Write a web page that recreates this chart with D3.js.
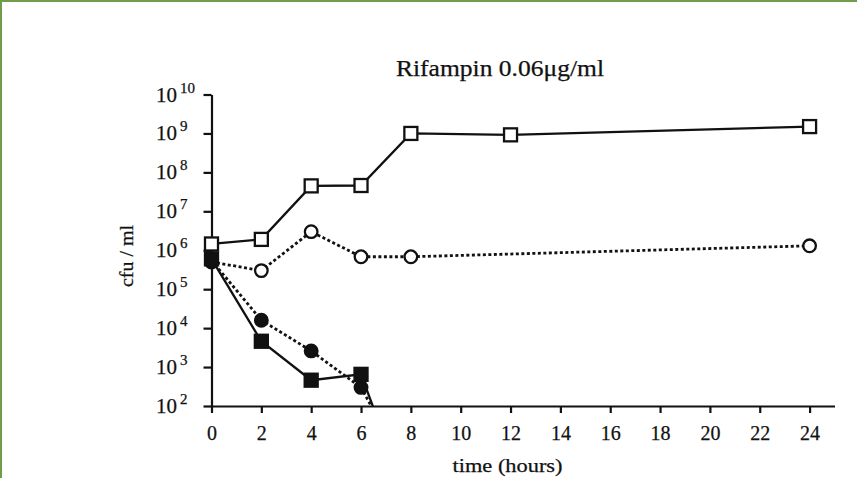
<!DOCTYPE html>
<html>
<head>
<meta charset="utf-8">
<script src="https://cdn.jsdelivr.net/npm/d3@7"></script>
<style>
  html, body { margin: 0; padding: 0; background: #fff; }
  #frame {
    width: 857px; height: 478px;
    border-left: 2px solid #6f9d4c; border-top: 2px solid #6f9d4c;
    box-sizing: border-box; position: relative;
  }
  svg text { font-family: "Liberation Serif", "Times New Roman", Times, serif; fill: #111; stroke: #111; stroke-width: 0.25px; }
</style>
</head>
<body>
<div id="frame"></div>
<script>
// time points (hours) and cfu/ml values
const tOpenSquare  = [0, 2, 4, 6, 8, 12, 24];
const vOpenSquare  = [1.45e6, 1.9e6, 4.5e7, 4.6e7, 1.0e9, 9.2e8, 1.5e9];

const tOpenCircle  = [0, 2, 4, 6, 8, 24];
const vOpenCircle  = [5.0e5, 3.0e5, 3.0e6, 6.8e5, 6.8e5, 1.3e6];

const tFilledCircle = [0, 2, 4, 6, 6.6];
const vFilledCircle = [5.5e5, 1.6e4, 2.6e3, 3.0e2, 60];

const tFilledSquare = [0, 2, 4, 6, 6.6];
const vFilledSquare = [6.0e5, 4.6e3, 4.6e2, 6.5e2, 60];

const xTicks = [0, 2, 4, 6, 8, 10, 12, 14, 16, 18, 20, 22, 24];
const yExponents = [2, 3, 4, 5, 6, 7, 8, 9, 10];

const title = "Rifampin 0.06\u03bcg/ml";
const xTitle = "time (hours)";
const yTitle = "cfu / ml";

const width = 857, height = 476;

const svg = d3.select("#frame").append("svg")
  .attr("width", width)
  .attr("height", height);

const x = d3.scaleLinear().domain([0, 25]).range([209.5, 832.5]);
const y = d3.scaleLog().domain([1e2, 1e10]).range([404, 92.5]);

// clip everything below 10^2
svg.append("clipPath").attr("id", "plot")
  .append("rect")
  .attr("x", x(0) - 10).attr("y", y(1e10) - 10)
  .attr("width", x(25) - x(0) + 20).attr("height", y(1e2) - y(1e10) + 10);

// axes
const xAxis = svg.append("g")
  .attr("transform", `translate(0,${y(1e2)})`)
  .call(d3.axisBottom(x).tickValues(xTicks).tickSize(7).tickSizeOuter(0).tickPadding(13));
xAxis.attr("font-family", null);
xAxis.select(".domain").attr("stroke", "#111").attr("stroke-width", 2.2);
xAxis.selectAll(".tick line").attr("stroke", "#111").attr("stroke-width", 2.2);
xAxis.selectAll(".tick text")
  .style("font-size", "20px")
  .attr("fill", "#111");

const yAxis = svg.append("g")
  .attr("transform", `translate(${x(0)},0)`)
  .call(d3.axisLeft(y).tickValues(yExponents.map(e => Math.pow(10, e))).tickSize(8).tickSizeOuter(0).tickFormat(""));
yAxis.select(".domain").attr("stroke", "#111").attr("stroke-width", 2.2);
yAxis.selectAll(".tick line").attr("stroke", "#111").attr("stroke-width", 2.2);

// y tick labels as 10 with superscript exponent
const yLab = svg.append("g").selectAll("text")
  .data(yExponents)
  .join("text")
  .attr("x", 154)
  .attr("y", d => y(Math.pow(10, d)) + 7)
  .style("font-size", "21px");
yLab.append("tspan").text("10");
yLab.append("tspan")
  .attr("dx", 3)
  .attr("dy", -9)
  .style("font-size", "15px")
  .text(d => d);

// titles
svg.append("text")
  .attr("x", 498).attr("y", 74)
  .attr("text-anchor", "middle")
  .attr("textLength", 208)
  .attr("lengthAdjust", "spacingAndGlyphs")
  .style("font-size", "23px")
  .text(title);

svg.append("text")
  .attr("x", x(12) - 3).attr("y", 470)
  .attr("text-anchor", "middle")
  .attr("textLength", 110)
  .attr("lengthAdjust", "spacingAndGlyphs")
  .style("font-size", "19px")
  .text(xTitle);

svg.append("text")
  .attr("transform", `translate(131,${254}) rotate(-90)`)
  .attr("text-anchor", "middle")
  .attr("textLength", 62)
  .attr("lengthAdjust", "spacingAndGlyphs")
  .style("font-size", "19px")
  .text(yTitle);

// series
const series = [
  { t: tOpenSquare, v: vOpenSquare, dash: null, shape: "square", fill: "#fff" },
  { t: tOpenCircle, v: vOpenCircle, dash: "3,2.5", shape: "circle", fill: "#fff" },
  { t: tFilledCircle, v: vFilledCircle, dash: "3,2.5", shape: "circle", fill: "#111" },
  { t: tFilledSquare, v: vFilledSquare, dash: null, shape: "square", fill: "#111" }
];

const line = d3.line()
  .x(d => x(d[0]))
  .y(d => y(d[1]));

const plot = svg.append("g").attr("clip-path", "url(#plot)");

series.forEach(s => {
  const pts = s.t.map((t, i) => [t, s.v[i]]);
  plot.append("path")
    .datum(pts)
    .attr("fill", "none")
    .attr("stroke", "#111")
    .attr("stroke-width", s.dash ? 2.8 : 2.3)
    .attr("stroke-dasharray", s.dash)
    .attr("d", line);

  const visible = pts.filter(d => d[1] >= 1e2);
  if (s.shape === "square") {
    plot.selectAll(null)
      .data(visible)
      .join("rect")
      .attr("x", d => x(d[0]) - 6.5)
      .attr("y", d => y(d[1]) - 6.5)
      .attr("width", 13).attr("height", 13)
      .attr("fill", s.fill)
      .attr("stroke", "#111")
      .attr("stroke-width", 2.3);
  } else {
    plot.selectAll(null)
      .data(visible)
      .join("circle")
      .attr("cx", d => x(d[0]))
      .attr("cy", d => y(d[1]))
      .attr("r", 6.3)
      .attr("fill", s.fill)
      .attr("stroke", "#111")
      .attr("stroke-width", 2.3);
  }
});
</script>
</body>
</html>
